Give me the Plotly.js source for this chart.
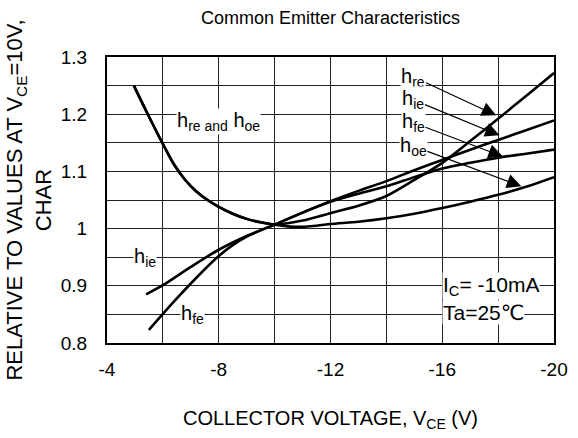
<!DOCTYPE html>
<html>
<head>
<meta charset="utf-8">
<script src="https://cdn.plot.ly/plotly-3.0.1.min.js"></script>
<style>html,body{margin:0;padding:0;background:#fff;}#chart{width:578px;height:438px;}</style>
</head>
<body>
<div id="chart"></div>
<script>
// Shared descending part of h_re and h_oe (VCE in volts, value relative to VCE=-10V)
var sharedVce = [-4.96, -5.5, -6.0, -6.4, -6.8, -7.2, -7.6, -8.0, -8.5, -9.0, -9.5, -10.0];
var sharedVal = [1.25, 1.196, 1.148, 1.112, 1.085, 1.065, 1.05, 1.038, 1.026, 1.017, 1.011, 1.007];

// h_re branch beyond -10 V
var hreVce = [-11, -12, -13, -14, -15, -16, -17, -18, -19, -20];
var hreVal = [1.014, 1.027, 1.040, 1.057, 1.085, 1.115, 1.153, 1.192, 1.232, 1.272];

// h_oe branch beyond -10 V
var hoeVce = [-10.7, -11.5, -12, -13, -14, -15, -16, -17, -18, -19, -20];
var hoeVal = [1.003, 1.005, 1.008, 1.012, 1.018, 1.026, 1.036, 1.047, 1.059, 1.073, 1.090];

// h_ie
var hieVce = [-5.4, -6, -7, -8, -9, -10, -11, -12, -13, -14, -15, -16, -17, -18, -19, -20];
var hieVal = [0.885, 0.901, 0.933, 0.963, 0.987, 1.007, 1.028, 1.048, 1.066, 1.083, 1.102, 1.120, 1.138, 1.155, 1.172, 1.189];

// h_fe
var hfeVce = [-5.5, -6, -6.5, -7, -7.5, -8, -8.5, -9, -9.5, -10, -11, -12, -13, -14, -15, -16, -17, -18, -19, -20];
var hfeVal = [0.823, 0.851, 0.878, 0.904, 0.929, 0.952, 0.971, 0.986, 0.997, 1.007, 1.028, 1.047, 1.061, 1.074, 1.090, 1.105, 1.115, 1.124, 1.131, 1.138];

// Tick labels
var xTickVals = [-4, -8, -12, -16, -20];
var xTickText = ['-4', '-8', '-12', '-16', '-20'];
var yTickVals = [0.8, 0.9, 1.0, 1.1, 1.2, 1.3];
var yTickText = ['0.8', '0.9', '1', '1.1', '1.2', '1.3'];

var FONT = 'Liberation Sans, Arial, DejaVu Sans, sans-serif';
var lineStyle = {color: '#000', width: 2.6, shape: 'spline', smoothing: 0.8};

var traces = [
  {name: 'h_re', x: sharedVce.concat(hreVce), y: sharedVal.concat(hreVal)},
  {name: 'h_oe', x: sharedVce.concat(hoeVce), y: sharedVal.concat(hoeVal)},
  {name: 'h_ie', x: hieVce, y: hieVal},
  {name: 'h_fe', x: hfeVce, y: hfeVal}
].map(function (t) {
  return {type: 'scatter', mode: 'lines', name: t.name, x: t.x, y: t.y, line: lineStyle, hoverinfo: 'skip'};
});

var gridCol = '#222';
var hFont = {family: FONT, size: 20, color: '#000'};
var condFont = {family: FONT, size: 21, color: '#000'};

function plainLabel(text, x, y, font, xanchor) {
  return {text: text, x: x, y: y, xref: 'x', yref: 'y', showarrow: false,
    xanchor: xanchor || 'center', yanchor: 'middle', bgcolor: '#fff', borderpad: 0, font: font};
}
function arrowLabel(text, tipX, tipY, tailX, tailY) {
  return {text: text, x: tipX, y: tipY, ax: tailX, ay: tailY, xref: 'x', yref: 'y', axref: 'x', ayref: 'y',
    showarrow: true, arrowhead: 2, arrowsize: 2.4, arrowwidth: 1.2, arrowcolor: '#000',
    bgcolor: '#fff', borderpad: 0, font: hFont};
}

var layout = {
  width: 578, height: 438,
  margin: {l: 107, r: 24, t: 57, b: 95, pad: 0},
  paper_bgcolor: '#fff', plot_bgcolor: '#fff',
  showlegend: false,
  font: {family: FONT, size: 19, color: '#000'},
  title: {text: 'Common Emitter Characteristics', font: {family: FONT, size: 18, color: '#000'},
    x: 0.5, xref: 'paper', xanchor: 'center', y: 1 - 18 / 438, yref: 'container', yanchor: 'middle'},
  xaxis: {
    range: [-4, -20], tickmode: 'array', tickvals: xTickVals, ticktext: xTickText,
    showgrid: true, gridcolor: gridCol, gridwidth: 1, zeroline: false,
    minor: {dtick: 2, tick0: -4, showgrid: true, gridcolor: gridCol, gridwidth: 1},
    showline: true, mirror: true, linecolor: '#000', linewidth: 2,
    ticks: '', ticklabelstandoff: 8,
    tickfont: {family: FONT, size: 19, color: '#000'},
    title: {text: 'COLLECTOR VOLTAGE, V<sub>CE</sub> (V)', font: {family: FONT, size: 20, color: '#000'}, standoff: 32}
  },
  yaxis: {
    range: [0.8, 1.3], tickmode: 'array', tickvals: yTickVals, ticktext: yTickText,
    showgrid: true, gridcolor: gridCol, gridwidth: 1, zeroline: false,
    minor: {dtick: 0.05, tick0: 0.8, showgrid: true, gridcolor: gridCol, gridwidth: 1},
    showline: true, mirror: true, linecolor: '#000', linewidth: 2,
    ticks: '', ticklabelstandoff: 14,
    tickfont: {family: FONT, size: 19, color: '#000'},
    title: {text: 'RELATIVE TO VALUES AT V<sub>CE</sub>=10V,<br>CHAR', font: {family: FONT, size: 22, color: '#000'}, standoff: 3}
  },
  annotations: [
    plainLabel('h<sub>re and</sub> h<sub>oe</sub>', -8.0, 1.188, hFont),
    plainLabel('h<sub>ie</sub>', -5.35, 0.95, hFont),
    plainLabel('h<sub>fe</sub>', -7.07, 0.85, hFont),
    plainLabel('I<sub>C</sub>= -10mA', -16.0, 0.90, condFont, 'left'),
    plainLabel('Ta=25\u2103', -16.0, 0.853, condFont, 'left'),
    arrowLabel('h<sub>re</sub>', -17.93, 1.198, -14.97, 1.265),
    arrowLabel('h<sub>ie</sub>', -18.05, 1.163, -14.97, 1.225),
    arrowLabel('h<sub>fe</sub>', -18.17, 1.126, -14.97, 1.185),
    arrowLabel('h<sub>oe</sub>', -18.83, 1.074, -14.97, 1.144)
  ]
};

Plotly.newPlot('chart', traces, layout, {staticPlot: true, displayModeBar: false});
</script>
</body>
</html>
